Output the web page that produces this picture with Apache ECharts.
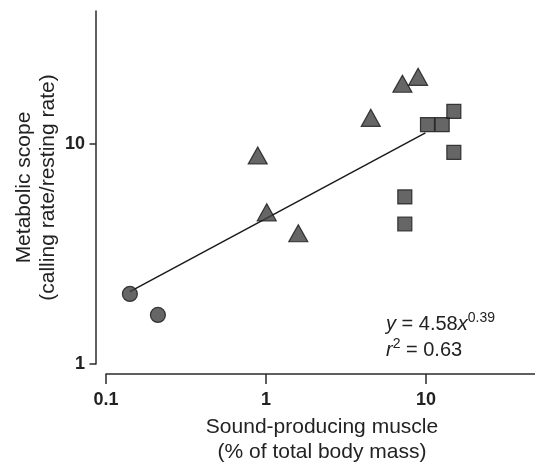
<!DOCTYPE html>
<html>
<head>
<meta charset="utf-8">
<script src="https://cdn.jsdelivr.net/npm/echarts@6/dist/echarts.min.js"></script>
<style>
  html, body { margin: 0; padding: 0; background: #fff; }
  #main { width: 535px; height: 463px; }
</style>
</head>
<body>
<div id="main"></div>
<script>
// data: [muscle %, metabolic scope]
var circles = [[0.141, 2.08], [0.211, 1.67]];
var triangles = [[0.887, 8.84], [1.01, 4.88], [1.59, 3.92], [4.51, 13.1], [7.11, 18.7], [8.91, 20.1]];
var squares = [[10.2, 12.2], [12.6, 12.2], [14.9, 14.0], [14.9, 9.12], [7.36, 5.73], [7.36, 4.32]];
// fitted line y = 4.58x^0.39, end points as drawn
var fitLine = [[0.141, 2.13], [9.9, 11.2]];
var xTicks = [0.1, 1, 10];
var yTicks = [1, 10];

var font = 'Liberation Sans, Arial, Helvetica, sans-serif';
var ink = '#222';
var fill = '#404040';

var chart = echarts.init(document.getElementById('main'));

var markStyle = { color: fill, borderColor: '#161616', borderWidth: 1.2 };

var option = {
  animation: false,
  grid: { left: 106, top: 11, width: 432, height: 353, outerBoundsMode: 'none' },
  xAxis: {
    type: 'log',
    logBase: 10,
    min: 0.1,
    max: 50,
    offset: 10,
    name: 'Sound-producing muscle\n(% of total body mass)',
    nameLocation: 'middle',
    nameGap: 41,
    nameMoveOverlap: false,
    nameTextStyle: { fontFamily: font, fontSize: 21, color: ink, lineHeight: 25 },
    axisLine: { lineStyle: { color: '#2b2b2b', width: 1.5 } },
    axisTick: { length: 10, lineStyle: { color: '#2b2b2b', width: 1.5 }, customValues: xTicks },
    axisLabel: {
      customValues: xTicks,
      margin: 17,
      fontFamily: font, fontSize: 18, fontWeight: 'bold', color: ink,
      formatter: function (v) { return String(+v.toPrecision(3)); }
    },
    splitLine: { show: false }
  },
  yAxis: {
    type: 'log',
    logBase: 10,
    min: 1,
    max: 40,
    offset: 10,
    name: 'Metabolic scope\n(calling rate/resting rate)',
    nameLocation: 'middle',
    nameGap: 36,
    nameMoveOverlap: false,
    nameTextStyle: { fontFamily: font, fontSize: 21, color: ink, lineHeight: 24 },
    axisLine: { lineStyle: { color: '#2b2b2b', width: 1.5 } },
    axisTick: { length: 6.5, lineStyle: { color: '#2b2b2b', width: 1.5 }, customValues: yTicks },
    axisLabel: {
      customValues: yTicks,
      margin: 11,
      fontFamily: font, fontSize: 18, fontWeight: 'bold', color: ink
    },
    splitLine: { show: false }
  },
  graphic: [{
    type: 'text',
    left: 386,
    top: 311,
    style: {
      text: '{i|y} = 4.58{i|x}{s|0.39}\n{i|r}{s|2} = 0.63',
      fontFamily: font,
      fontSize: 20,
      lineHeight: 26,
      fill: ink,
      rich: {
        i: { fontStyle: 'italic', fontFamily: font, fontSize: 20, lineHeight: 26 },
        s: { fontFamily: font, fontSize: 14, verticalAlign: 'top', lineHeight: 20 }
      }
    }
  }],
  series: [
    {
      type: 'line',
      data: fitLine,
      symbol: 'none',
      z: 1,
      lineStyle: { color: '#1a1a1a', width: 1.5 }
    },
    {
      type: 'scatter',
      data: circles,
      symbol: 'circle',
      symbolSize: 15,
      z: 3,
      itemStyle: markStyle
    },
    {
      type: 'scatter',
      data: triangles,
      symbol: 'triangle',
      symbolSize: [19, 17],
      z: 3,
      itemStyle: markStyle
    },
    {
      type: 'scatter',
      data: squares,
      symbol: 'rect',
      symbolSize: 14,
      z: 3,
      itemStyle: markStyle
    }
  ]
};

chart.setOption(option);
</script>
</body>
</html>
